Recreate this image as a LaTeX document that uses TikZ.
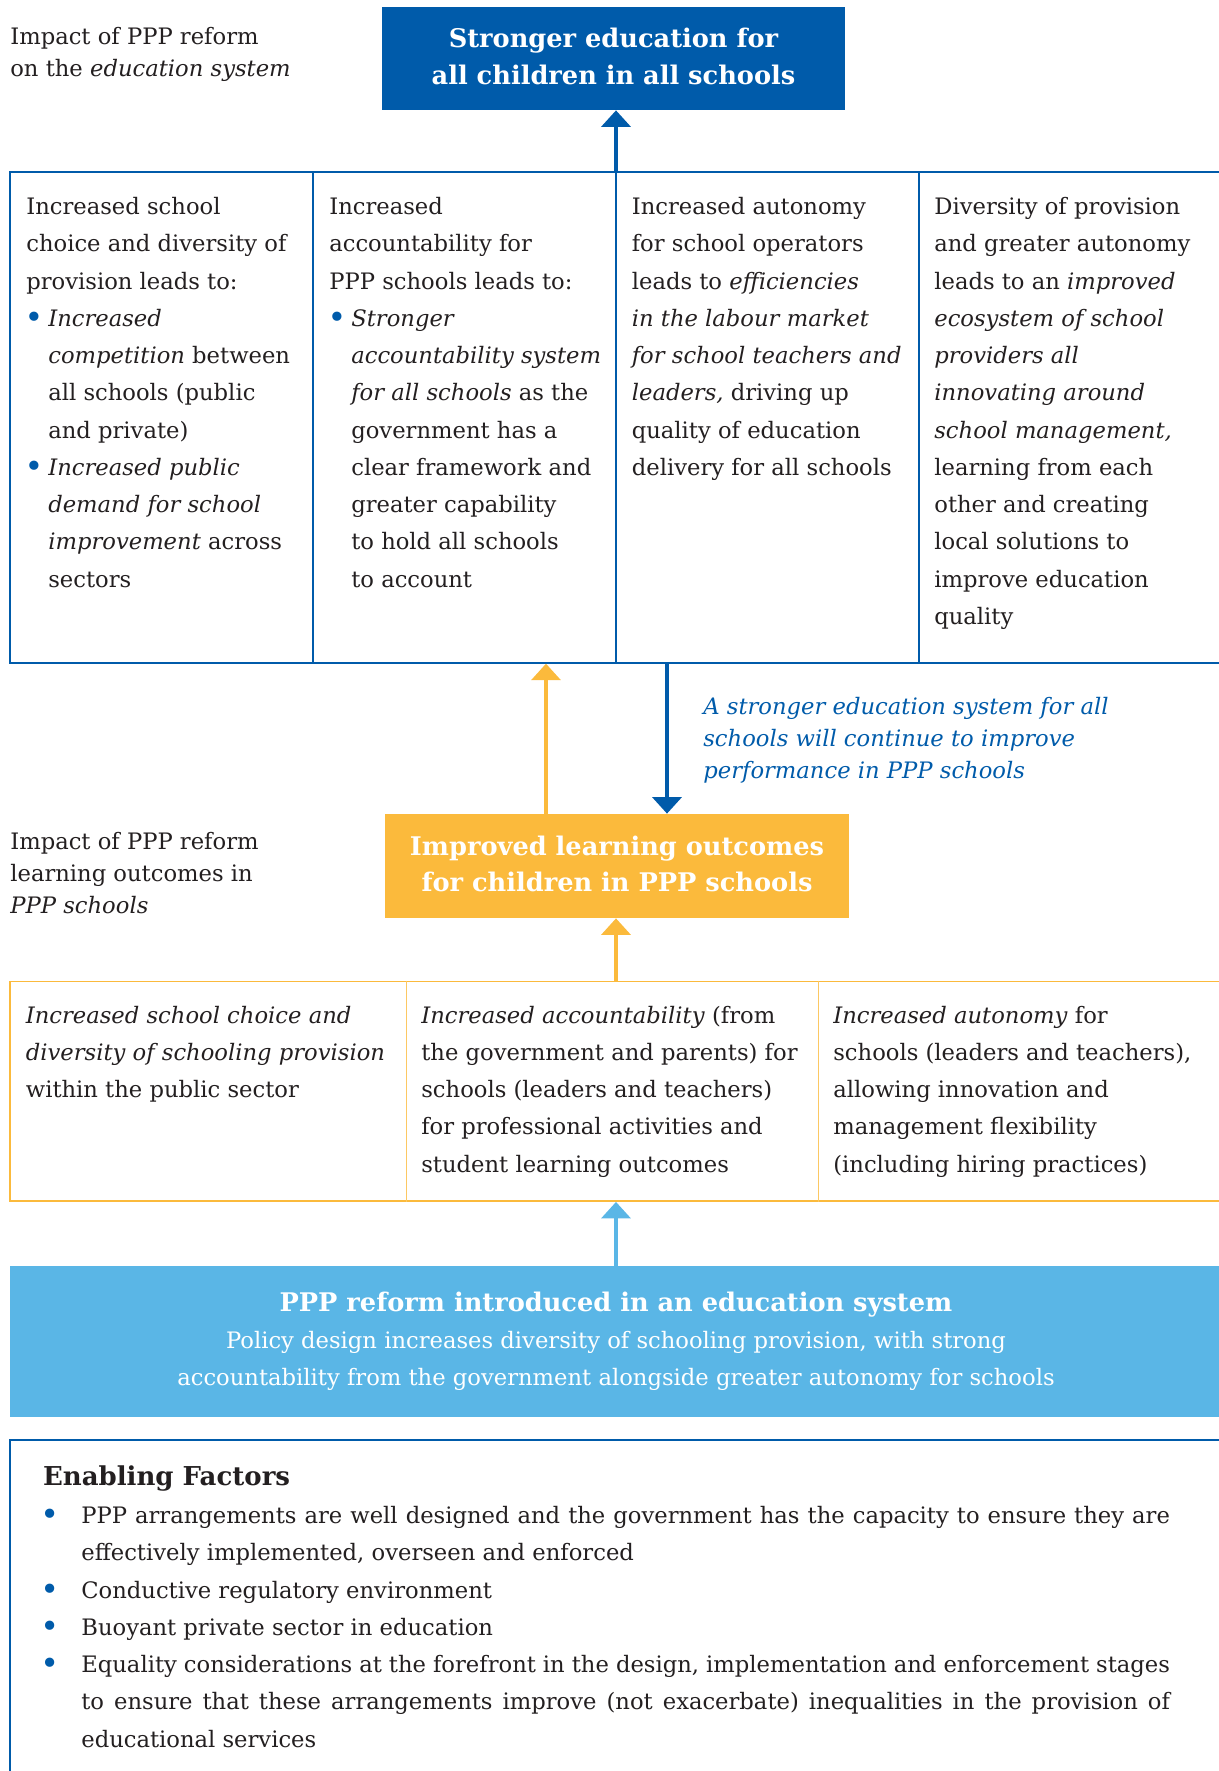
\documentclass[tikz,border=0pt]{standalone}
\usepackage{fontspec}
\setmainfont{DejaVu Serif}
\usetikzlibrary{calc,arrows.meta}

\definecolor{oecdblue}{HTML}{005BAA}
\definecolor{oecdgold}{HTML}{FBBA3C}
\definecolor{oecdsky}{HTML}{5AB6E6}
\definecolor{ink}{HTML}{231F20}

\begin{document}
\begin{tikzpicture}[x=0.02cm, y=-0.02cm,
	txt/.style={inner sep=0pt, anchor=north west, align=left, text=ink,
		font=\fontsize{12.9}{21.2}\selectfont},
	lbl/.style={txt, font=\fontsize{12.9}{18.4}\selectfont},
	note/.style={txt, text=oecdblue, font=\fontsize{12.9}{18.3}\selectfont\itshape},
	hbox/.style={inner sep=0pt, align=center, text=white,
		font=\fontsize{14.6}{20.8}\selectfont\bfseries},
	frame/.style={draw, inner sep=0pt, line width=0.75pt},
	flow/.style={line width=2.6pt, -{Triangle[width=16.4pt,length=9.4pt]}},
]

% parameters %{{{2

	% ---- one unit is one pixel of the page

	\def\px{0.02cm}
	\def\bulskip{12.5pt}
	\def\bigbul{\textcolor{oecdblue}{\raisebox{-1.2pt}{\scalebox{1.4}{\textbullet}}}}
	\def\bulmark{\makebox[\bulskip][l]{\hspace*{-1pt}\bigbul}}
	\def\bulrest{\hspace*{\bulskip}}
	\def\outbul{\llap{\bigbul\hspace{12.6pt}}}
	\def\justline#1{\makebox[619.6pt][s]{#1}}
	\def\lift{\rule[-2.6pt]{0pt}{2.6pt}}

	\useasboundingbox (0,0) rectangle (1218,1771);

% boxes %{{{2

	\node[hbox, fill=oecdblue, minimum width=463*\px, minimum height=103*\px]
		(strong) at (613.5,58.5) {Stronger education for\\all children in all schools\lift};

	\node[frame, draw=oecdblue, minimum width=1212*\px, minimum height=491*\px]
		(tabA) at (616,417.5) {};

	\node[hbox, fill=oecdgold, minimum width=464*\px, minimum height=104*\px]
		(outcome) at (617,866) {Improved learning outcomes\\for children in PPP schools\lift};

	\node[frame, draw=oecdgold, line width=1pt, minimum width=1212*\px, minimum height=219.5*\px]
		(tabB) at (616,1091.25) {};

	\node[hbox, fill=oecdsky, minimum width=1212*\px, minimum height=151*\px,
		font=\fontsize{12.9}{21.2}\selectfont]
		(reform) at (616,1341.5)
		{{\fontsize{14.6}{21.2}\selectfont\bfseries PPP reform introduced in an education system}\\
		Policy design increases diversity of schooling provision, with strong\\
		accountability from the government alongside greater autonomy for schools};

	% ---- enabling factors frame, open at right and bottom

	\draw[oecdblue, line width=0.75pt] (10,1440) rectangle (1240,1800);

% column dividers %{{{2

	\foreach \x in {313,616,919}
		\draw[oecdblue, line width=0.75pt] (\x,0 |- tabA.north) -- (\x,0 |- tabA.south);

	\foreach \x in {406,818}
		\draw[oecdgold!80, line width=0.5pt] (\x,0 |- tabB.north) -- (\x,0 |- tabB.south);

% arrows %{{{2

	\draw[flow, oecdblue] (tabA.north) -- (tabA.north |- strong.south);

	\coordinate (gold up) at ($(outcome.north)+(-71,0)$);
	\coordinate (blue down) at ($(outcome.north)+(50,0)$);

	\draw[flow, oecdgold] (gold up) -- (gold up |- tabA.south);
	\draw[flow, oecdblue] (blue down |- tabA.south) -- (blue down);

	\draw[flow, oecdgold] (tabB.north) -- (tabB.north |- outcome.south);
	\draw[flow, oecdsky] (reform.north) -- (reform.north |- tabB.south);

% side labels %{{{2

	\node[lbl] (sysnote) at (10,27)
		{Impact of PPP reform\\on the \textit{education system}};

	\node[lbl] (pppnote) at (10,831.5)
		{Impact of PPP reform\\learning outcomes in\\\textit{PPP schools}};

	\node[note] (loop) at (703,696.5)
		{A stronger education system for all\\schools will continue to improve\\performance in PPP schools};

% upper table text %{{{2

	\node[txt] (colA1) at (26,197)
		{Increased school\\choice and diversity of\\provision leads to:\\
		\bulmark\textit{Increased}\\
		\bulrest\textit{competition} between\\
		\bulrest all schools (public\\
		\bulrest and private)\\
		\bulmark\textit{Increased public}\\
		\bulrest\textit{demand for school}\\
		\bulrest\textit{improvement} across\\
		\bulrest sectors};

	\node[txt] (colA2) at (329,197)
		{Increased\\accountability for\\PPP schools leads to:\\
		\bulmark\textit{Stronger}\\
		\bulrest\textit{accountability system}\\
		\bulrest\textit{for all schools} as the\\
		\bulrest government has a\\
		\bulrest clear framework and\\
		\bulrest greater capability\\
		\bulrest to hold all schools\\
		\bulrest to account};

	\node[txt] (colA3) at (631.5,197)
		{Increased autonomy\\for school operators\\leads to \textit{efficiencies}\\
		\textit{in the labour market}\\\textit{for school teachers and}\\
		\textit{leaders,} driving up\\quality of education\\delivery for all schools};

	\node[txt] (colA4) at (934,197)
		{Diversity of provision\\and greater autonomy\\leads to an \textit{improved}\\
		\textit{ecosystem of school}\\\textit{providers all}\\\textit{innovating around}\\
		\textit{school management,}\\learning from each\\other and creating\\
		local solutions to\\improve education\\quality};

% lower table text %{{{2

	\node[txt] (colB1) at (25.5,1005.5)
		{\textit{Increased school choice and}\\\textit{diversity of schooling provision}\\
		within the public sector};

	\node[txt] (colB2) at (421,1005.5)
		{\textit{Increased accountability} (from\\the government and parents) for\\
		schools (leaders and teachers)\\for professional activities and\\
		student learning outcomes};

	\node[txt] (colB3) at (833,1005.5)
		{\textit{Increased autonomy} for\\schools (leaders and teachers),\\
		allowing innovation and\\management flexibility\\(including hiring practices)};

% enabling factors %{{{2

	\node[txt, font=\fontsize{14.8}{21.2}\selectfont\bfseries] (enhead) at (42.7,1465)
		{Enabling Factors};

	\node[txt] (enlist) at (81,1506)
		{\outbul\justline{PPP arrangements are well designed and the government has the capacity to ensure they are}\\
		effectively implemented, overseen and enforced\\
		\outbul Conductive regulatory environment\\
		\outbul Buoyant private sector in education\\
		\outbul\justline{Equality considerations at the forefront in the design, implementation and enforcement stages}\\
		\justline{to ensure that these arrangements improve (not exacerbate) inequalities in the provision of}\\
		educational services};

% closing %{{{2

\end{tikzpicture}
\end{document}
